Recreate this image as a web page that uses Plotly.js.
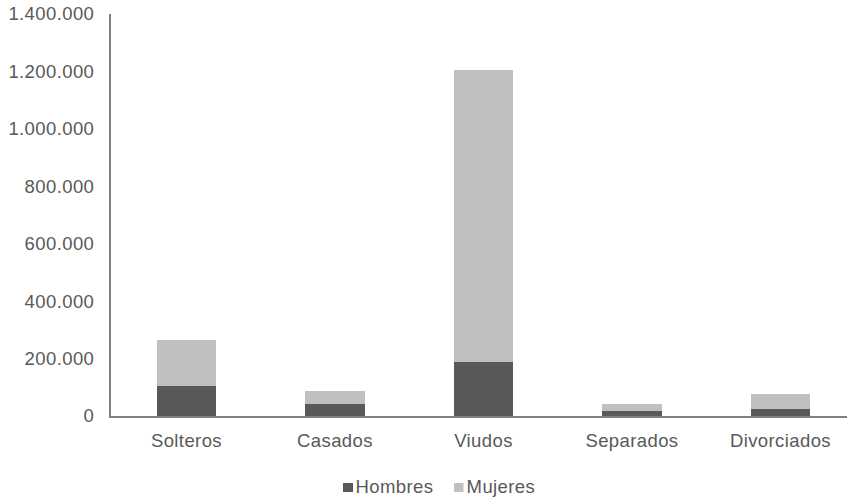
<!DOCTYPE html>
<html>
<head>
<meta charset="utf-8">
<script src="https://cdn.plot.ly/plotly-3.0.1.min.js"></script>
<style>
html,body{margin:0;padding:0;background:#fff;}
#chart{width:847px;height:499px;}
#chart text{letter-spacing:0.4px;}
</style>
</head>
<body>
<div id="chart"></div>
<script>
const categories = ["Solteros", "Casados", "Viudos", "Separados", "Divorciados"];
const seriesNames = ["Hombres", "Mujeres"];
const hombres = [104000, 43500, 188500, 16700, 26100];
const mujeres = [162000, 44200, 1016500, 26800, 52200];
const yTicks = [0, 200000, 400000, 600000, 800000, 1000000, 1200000, 1400000];

const textColor = "#595959";
const colors = ["#595959", "#bfbfbf"];
const W = 847, H = 499;
const M = {l: 111, r: 0, t: 14, b: 83};
const PW = W - M.l - M.r, PH = H - M.t - M.b;
const px = x => (x - M.l) / PW;
const py = y => (H - M.b - y) / PH;

const traces = [
  {type: "bar", name: seriesNames[0], x: categories, y: hombres, marker: {color: colors[0]}, hoverinfo: "skip"},
  {type: "bar", name: seriesNames[1], x: categories, y: mujeres, marker: {color: colors[1]}, hoverinfo: "skip"}
];

// custom legend (square + label), placed below the plot
const legendItems = [
  {sq: [343, 353], ty: [483, 492], tx: 355},
  {sq: [454, 463.5], ty: [483, 492], tx: 466}
];
const shapes = legendItems.map((it, i) => ({
  type: "rect", xref: "paper", yref: "paper",
  x0: px(it.sq[0]), x1: px(it.sq[1]), y0: py(it.ty[1]), y1: py(it.ty[0]),
  fillcolor: colors[i], line: {width: 0}
}));
const annotations = legendItems.map((it, i) => ({
  xref: "paper", yref: "paper", x: px(it.tx), y: py(486),
  xanchor: "left", yanchor: "middle", showarrow: false,
  text: seriesNames[i], font: {size: 18.5, color: textColor}
}));

const layout = {
  width: W, height: H,
  margin: M,
  barmode: "stack",
  bargap: 0.6,
  separators: ",.",
  paper_bgcolor: "#ffffff",
  plot_bgcolor: "#ffffff",
  font: {family: "Liberation Sans, Arial, sans-serif", size: 18.5, color: textColor},
  showlegend: false,
  shapes: shapes,
  annotations: annotations,
  xaxis: {range: [-0.508, 4.448], showline: true, linecolor: "#7f7f7f", linewidth: 2, ticks: "",
          showgrid: false, zeroline: false, ticklabelstandoff: 7, fixedrange: true},
  yaxis: {range: [0, 1400000], tickvals: yTicks, tickformat: ",d", showline: true,
          linecolor: "#7f7f7f", linewidth: 2, ticks: "", showgrid: false, zeroline: false,
          ticklabelstandoff: 11, fixedrange: true}
};
Plotly.newPlot("chart", traces, layout, {displayModeBar: false, staticPlot: true});
</script>
</body>
</html>
